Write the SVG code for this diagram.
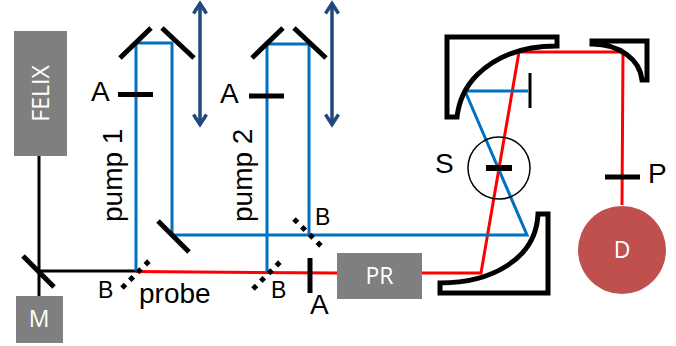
<svg xmlns="http://www.w3.org/2000/svg" width="676" height="346" viewBox="0 0 676 346">
<style>
text{font-family:"Liberation Sans",Arial,sans-serif;fill:#000}
.lbl{font-size:28px}
.sm{font-size:23px}
.w{font-family:"Open Sans","Liberation Sans",sans-serif;fill:#fff;text-anchor:middle;font-size:23px}
.box{fill:#7f7f7f}
.k{stroke:#000;stroke-width:3;fill:none}
.b{stroke:#0070c0;stroke-width:3;fill:none}
.r{stroke:#f00;stroke-width:3;fill:none}
.m{stroke:#000;stroke-width:5;fill:none}
.pm{stroke:#000;stroke-width:5;fill:none;stroke-linejoin:miter}
.bs{stroke:#000;stroke-width:5;stroke-dasharray:5 6;fill:none}
.ar{stroke:#1f497d;stroke-width:3.500;fill:none;marker-start:url(#h);marker-end:url(#h)}
</style>
<defs>
<marker id="h" markerUnits="userSpaceOnUse" markerWidth="18" markerHeight="18" refX="15" refY="9" orient="auto-start-reverse"><path d="M4.500 2.500L14.500 9L4.500 15.500" fill="none" stroke="#1f497d" stroke-width="3.500"/></marker>
</defs>
<g id="connectors">
<path class="k" d="M39 156V296M39 271H136"/>
<path class="r" d="M136 271.500L337 273M422 273H481L519 52H623L622 205"/>
<path class="b" d="M136 271V43H172V235H527L465 91H528"/>
<path class="b" d="M267 271V44H309V235"/>
</g>
<g id="felix"><rect class="box" x="14" y="31" width="53" height="125"/><text class="w" transform="translate(49 93.500) rotate(-90)">FELIX</text></g>
<g id="m"><rect class="box" x="16" y="296" width="47" height="47"/><text class="w" x="39" y="327">M</text></g>
<g id="mirror-m"><path class="m" d="M23 256L54 287"/></g>
<g id="mirror-1"><path class="m" d="M120 58L151 28M162 28L194 58"/></g>
<g id="mirror-2"><path class="m" d="M252 58L283 28M294 28L326 58"/></g>
<g id="mirror-3"><path class="m" d="M158 221L189 252"/></g>
<g id="stage-1"><path class="ar" d="M200 3V125"/></g>
<g id="stage-2"><path class="ar" d="M332 3V125"/></g>
<g id="a1"><path class="m" d="M118 94.500H153"/><text class="lbl" x="91" y="101">A</text></g>
<g id="a2"><path class="m" d="M249 96H284"/><text class="lbl" x="220" y="103">A</text></g>
<g id="a3"><path class="m" d="M310 258V293"/><text class="lbl" x="310" y="314">A</text></g>
<g id="pump-1"><text class="lbl" transform="translate(122 222) rotate(-90)">pump 1</text></g>
<g id="pump-2"><text class="lbl" transform="translate(252 222) rotate(-90)">pump 2</text></g>
<g id="probe"><text class="lbl" x="139" y="303">probe</text></g>
<g id="b1"><path class="bs" d="M122 288L150 260"/><text class="sm" x="98" y="298">B</text></g>
<g id="b2"><path class="bs" d="M253 289L280 262"/><text class="sm" x="271" y="298">B</text></g>
<g id="b3"><path class="bs" d="M294 219L322 247"/><text class="sm" x="315" y="225">B</text></g>
<g id="pr"><rect class="box" x="337" y="253" width="85" height="46"/><text class="w" x="379.500" y="284">PR</text></g>
<g id="pm-1"><path class="pm" d="M557 46V37H447V117H457C459 100 466 86 477 75C496 56 522 46 557 46Z"/></g>
<g id="pm-2"><path class="pm" d="M592 41H647V80H642C640 60 620 44 592 44Z"/></g>
<g id="pm-3"><path class="pm" d="M538 214H548V293H440V283C490 283 536 260 538 214Z"/></g>
<g id="stop"><path class="k" d="M530 73V108"/></g>
<g id="sample"><circle cx="499" cy="168" r="31" fill="none" stroke="#000" stroke-width="1.500"/><path class="m" d="M486 168H512" style="stroke-width:6"/><text class="lbl" x="435" y="173">S</text></g>
<g id="p"><path class="m" d="M605 177H640"/><text class="lbl" x="648" y="183">P</text></g>
<g id="d"><circle cx="622" cy="250" r="44" fill="#c0504d"/><text class="w" x="622" y="258">D</text></g>
</svg>
